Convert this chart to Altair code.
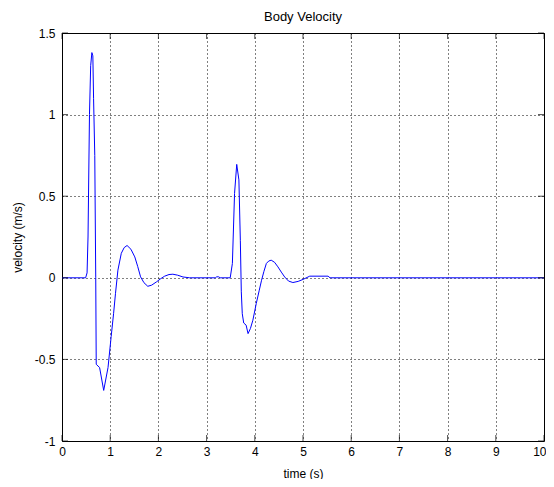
import altair as alt
import pandas as pd

time_s = [0, 0.49, 0.52, 0.54, 0.57, 0.595, 0.62, 0.64, 0.655, 0.68, 0.70, 0.71,
          0.78, 0.865, 0.955, 1.02, 1.07, 1.11, 1.16, 1.23, 1.29, 1.35, 1.43,
          1.51, 1.57, 1.63, 1.70, 1.78, 1.86, 1.96, 2.05, 2.13, 2.22, 2.30,
          2.40, 2.51, 2.65, 3.18, 3.21, 3.25, 3.28, 3.49, 3.535, 3.58, 3.625,
          3.67, 3.70, 3.72, 3.74, 3.77, 3.82, 3.86, 3.91, 3.96, 4.03, 4.09,
          4.14, 4.19, 4.24, 4.29, 4.34, 4.41, 4.48, 4.55, 4.62, 4.70, 4.79,
          4.90, 5.0, 5.14, 5.52, 5.56, 10]
velocity = [0, 0, 0.03, 0.25, 1.0, 1.3, 1.38, 1.36, 1.1, 0.75, 0.0, -0.53,
            -0.55, -0.69, -0.55, -0.36, -0.22, -0.095, 0.047, 0.15, 0.185,
            0.198, 0.175, 0.128, 0.07, 0.006, -0.03, -0.052, -0.045, -0.025,
            -0.005, 0.01, 0.02, 0.022, 0.016, 0.005, 0, 0, 0.006, 0.006, 0, 0,
            0.088, 0.517, 0.695, 0.6, 0.23, -0.086, -0.22, -0.277, -0.29,
            -0.342, -0.31, -0.26, -0.158, -0.08, -0.015, 0.04, 0.088, 0.103,
            0.108, 0.095, 0.067, 0.035, 0.005, -0.02, -0.029, -0.022, -0.01,
            0.01, 0.01, 0, 0]

x_ticks = [0, 1, 2, 3, 4, 5, 6, 7, 8, 9, 10]
y_ticks = [-1, -0.5, 0, 0.5, 1, 1.5]

df = pd.DataFrame({"t": time_s, "v": velocity})
xt = pd.DataFrame({"x": x_ticks})
yt = pd.DataFrame({"y": y_ticks})

FONT = "Liberation Sans"
xs = alt.Scale(domain=[0, 10], nice=False)
ys = alt.Scale(domain=[-1, 1.5], nice=False)

x_axis = alt.Axis(values=x_ticks, labelExpr="datum.value + ''", grid=True,
                  gridDash=[1, 3], gridColor="black", gridOpacity=1, ticks=False,
                  domain=False, labelFont=FONT, labelFontSize=12,
                  labelColor="black", labelPadding=5,
                  labelAlign={"condition": {"test": "datum.value == 10", "value": "right"},
                              "value": "center"},
                  labelOffset={"condition": {"test": "datum.value == 10", "value": 2},
                               "value": 0},
                  title="time (s)", titleFont=FONT, titleFontSize=12,
                  titleFontWeight="normal", titleColor="black", titlePadding=11,
                  labelFlush=False)
y_axis = alt.Axis(values=y_ticks, labelExpr="datum.value + ''", grid=True,
                  gridDash=[1, 3], gridColor="black", gridOpacity=1, ticks=False,
                  domain=False, labelFont=FONT, labelFontSize=12,
                  labelColor="black", labelPadding=7, title="velocity (m/s)",
                  titleFont=FONT, titleFontSize=12, titleFontWeight="normal",
                  titleColor="black", titlePadding=10, labelFlush=False)

line = alt.Chart(df).mark_line(color="#0000ff", strokeWidth=1, interpolate="linear").encode(
    x=alt.X("t:Q", scale=xs, axis=x_axis),
    y=alt.Y("v:Q", scale=ys, axis=y_axis),
)

tick_len = 6
bottom_ticks = alt.Chart(xt).mark_tick(color="black", size=tick_len, thickness=1,
                                       yOffset=-tick_len / 2).encode(
    x=alt.X("x:Q", scale=xs), y=alt.datum(-1, scale=ys))
top_ticks = alt.Chart(xt).mark_tick(color="black", size=tick_len, thickness=1,
                                    yOffset=tick_len / 2).encode(
    x=alt.X("x:Q", scale=xs), y=alt.datum(1.5, scale=ys))
left_ticks = alt.Chart(yt).mark_tick(color="black", size=tick_len, thickness=1,
                                     xOffset=tick_len / 2, orient="horizontal").encode(
    y=alt.Y("y:Q", scale=ys), x=alt.datum(0, scale=xs))
right_ticks = alt.Chart(yt).mark_tick(color="black", size=tick_len, thickness=1,
                                      xOffset=-tick_len / 2, orient="horizontal").encode(
    y=alt.Y("y:Q", scale=ys), x=alt.datum(10, scale=xs))

chart = alt.layer(line, bottom_ticks, top_ticks, left_ticks, right_ticks).properties(
    width=482, height=408,
    title=alt.TitleParams("Body Velocity", font=FONT, fontSize=13,
                          fontWeight="normal", color="black", offset=3),
    autosize=alt.AutoSizeParams(type="none"),
    padding={"left": 54, "top": 25, "right": 2, "bottom": 38},
    background="white",
).configure_view(stroke="black", strokeWidth=1)

chart.save("out.html", embed_options={"renderer": "svg", "actions": False})
